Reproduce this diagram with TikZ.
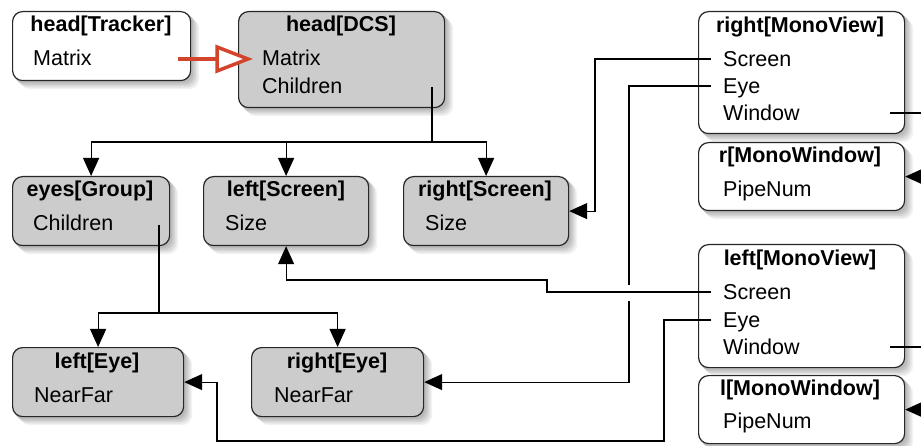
\documentclass[tikz,border=0pt]{standalone}
\usepackage{fontspec}
\setmainfont{Liberation Sans}
\usetikzlibrary{arrows.meta,calc}
\definecolor{boxgray}{HTML}{CCCCCC}
\definecolor{redarrow}{HTML}{D2452C}
\definecolor{shA}{HTML}{F2F2F2}
\definecolor{shB}{HTML}{E4E4E4}
\definecolor{shC}{HTML}{D6D6D6}
\definecolor{shD}{HTML}{C8C8C8}
\definecolor{shE}{HTML}{BBBBBB}
\pgfdeclarelayer{bg}
\pgfsetlayers{bg,main}
\begin{document}
\begin{tikzpicture}[x=1pt,y=-1pt,
  box/.style={draw=black!85, line width=1.2pt, rounded corners=10pt, anchor=north west, inner sep=0pt},
  wbox/.style={box, fill=white},
  gbox/.style={box, fill=boxgray},
  ttl/.style={anchor=base, font=\fontsize{21.5}{26}\selectfont\bfseries, inner sep=0pt},
  fld/.style={anchor=base west, font=\fontsize{21.5}{26}\selectfont, inner sep=0pt},
  conn/.style={line width=1.1pt, draw=black},
  arr/.style={conn, -{Triangle[length=18pt,width=16pt]}},
]
\useasboundingbox (0,0) rectangle (921,446);

% boxes
\node[wbox, minimum width=178pt, minimum height=69pt] (tracker) at (12,11) {};
\node[gbox, minimum width=206pt, minimum height=96pt] (dcs) at (238,11) {};
\node[gbox, minimum width=157pt, minimum height=69pt] (eyes) at (12,176) {};
\node[gbox, minimum width=165pt, minimum height=69pt] (lscreen) at (203,176) {};
\node[gbox, minimum width=165pt, minimum height=69pt] (rscreen) at (403,176) {};
\node[gbox, minimum width=171pt, minimum height=69pt] (leye) at (12,347) {};
\node[gbox, minimum width=172pt, minimum height=69pt] (reye) at (251,347) {};
\node[wbox, minimum width=206pt, minimum height=122pt] (rmv) at (698,11) {};
\node[wbox, minimum width=206pt, minimum height=68pt] (rmw) at (698,142) {};
\node[wbox, minimum width=206pt, minimum height=123pt] (lmv) at (698,244) {};
\node[wbox, minimum width=206pt, minimum height=68pt] (lmw) at (698,375) {};

% soft shadows behind the boxes
\begin{pgfonlayer}{bg}
\foreach \n in {tracker,dcs,eyes,lscreen,rscreen,leye,reye,rmv,rmw,lmv,lmw}{
  \foreach \d/\c in {8/shA,6.5/shB,5/shC,3.5/shD,2/shE}{
    \fill[\c, rounded corners=10pt]
      ([xshift=\d pt,yshift=-\d pt]\n.north west) rectangle ([xshift=\d pt,yshift=-\d pt]\n.south east);
  }
}
\end{pgfonlayer}

% texts
\node[ttl] (trT) at (101,32) {head[Tracker]};
\node[fld] (trM) at (33,66) {Matrix};
\node[ttl] (dcsT) at (341,32) {head[DCS]};
\node[fld] (dcsM) at (262,66) {Matrix};
\node[fld] (dcsC) at (262,94) {Children};
\node[ttl] (eyesT) at (90,197) {eyes[Group]};
\node[fld] (eyesC) at (33,231) {Children};
\node[ttl] (lsT) at (286,197) {left[Screen]};
\node[fld] (lsS) at (225,231) {Size};
\node[ttl] (rsT) at (485,197) {right[Screen]};
\node[fld] (rsS) at (425,231) {Size};
\node[ttl] (leT) at (97,368) {left[Eye]};
\node[fld] (leN) at (34,402) {NearFar};
\node[ttl] (reT) at (337,368) {right[Eye]};
\node[fld] (reN) at (274,402) {NearFar};
\node[ttl] (rmvT) at (800,33) {right[MonoView]};
\node[fld] (rmvS) at (723,67) {Screen};
\node[fld] (rmvE) at (723,94) {Eye};
\node[fld] (rmvW) at (723,121) {Window};
\node[ttl] (rmwT) at (800,163) {r[MonoWindow]};
\node[fld] (rmwP) at (723,197) {PipeNum};
\node[ttl] (lmvT) at (800,266) {left[MonoView]};
\node[fld] (lmvS) at (723,300) {Screen};
\node[fld] (lmvE) at (723,327) {Eye};
\node[fld] (lmvW) at (723,354) {Window};
\node[ttl] (lmwT) at (800,395) {l[MonoWindow]};
\node[fld] (lmwP) at (723,428) {PipeNum};

% connector end points
\coordinate (trOut) at (178,59);
\coordinate (trHead) at (217,59);
\coordinate (dcsIn) at (248,59);
\coordinate (dcsCh) at (432,87);
\coordinate (dcsJ) at (432,142);
\coordinate (eyCh) at (159,225);
\coordinate (eyJ) at (159,313);
\coordinate (rmvSo) at (711,59);
\coordinate (rmvEo) at (711,86);
\coordinate (rmvWo) at (890,113);
\coordinate (lmvSo) at (711,292);
\coordinate (lmvEo) at (711,320);
\coordinate (lmvWo) at (890,347);

% red arrow (open triangle head)
\draw[draw=redarrow, line width=3.5pt] (trOut) -- (trHead);
\draw[draw=redarrow, fill=white, line width=3.5pt, line join=miter]
  ($(trHead)+(0,-12)$) -- (dcsIn) -- ($(trHead)+(0,12)$) -- cycle;

% tree connectors
\draw[conn] (dcsCh) -- (dcsJ);
\draw[arr] (dcsJ) -| (eyes.north);
\draw[arr] (dcsJ) -| (lscreen.north);
\draw[arr] (dcsJ) -| (rscreen.north);
\draw[conn] (eyCh) -- (eyJ);
\draw[arr] (eyJ) -| (leye.north);
\draw[arr] (eyJ) -| (reye.north);

% view connectors
\draw[arr] (rmvSo) -- (595,59) |- (rscreen.east);
\draw[conn] (rmvEo) -- (629,86) -- (629,285);
\draw[arr] (629,301) |- (reye.east);
\draw[arr] (lmvSo) -- (547,292) -- (547,280) -| (lscreen.south);
\draw[arr] (lmvEo) -- (664,320) -- (664,441) -- (217,441) |- (leye.east);
\draw[arr] (rmvWo) -- (935,113) |- (rmw.east);
\draw[arr] (lmvWo) -- (935,347) |- (lmw.east);
\end{tikzpicture}
\end{document}
